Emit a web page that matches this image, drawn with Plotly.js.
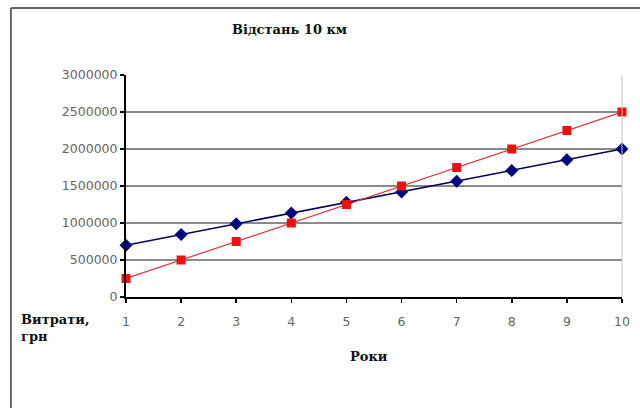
<!DOCTYPE html>
<html>
<head>
<meta charset="utf-8">
<script src="https://cdn.plot.ly/plotly-3.0.1.min.js"></script>
<style>
  html, body { margin: 0; padding: 0; background: #fff; }
  #chart { width: 640px; height: 408px; }
</style>
</head>
<body>
<div id="chart"></div>
<script>
// Years of operation
const years = [1, 2, 3, 4, 5, 6, 7, 8, 9, 10];
// Costs, UAH — first option (blue diamonds)
const costsA = [700000, 845000, 990000, 1135000, 1280000, 1420000, 1565000, 1710000, 1855000, 2000000];
// Costs, UAH — second option (red squares)
const costsB = [250000, 500000, 750000, 1000000, 1250000, 1500000, 1750000, 2000000, 2250000, 2500000];
const yTicks = [0, 500000, 1000000, 1500000, 2000000, 2500000, 3000000];

const traces = [
  {
    x: years, y: costsA, type: 'scatter', mode: 'lines+markers',
    line: { color: '#000055', width: 1.5 },
    marker: { symbol: 'diamond', size: 10, color: '#000080' },
    cliponaxis: false, showlegend: false
  },
  {
    x: years, y: costsB, type: 'scatter', mode: 'lines+markers',
    line: { color: '#e0303a', width: 1.2 },
    marker: { symbol: 'square', size: 9, color: '#ee1111' },
    cliponaxis: false, showlegend: false
  }
];

const serif = 'DejaVu Serif, serif';
const sans = 'DejaVu Sans, Verdana, sans-serif';

const layout = {
  width: 640, height: 408,
  margin: { l: 126, r: 18, t: 75, b: 111 },
  paper_bgcolor: '#ffffff', plot_bgcolor: '#ffffff',
  font: { family: sans, size: 12.5, color: '#666' },
  xaxis: {
    range: [1, 10], tickvals: years, ticktext: years.map(String),
    showgrid: false, zeroline: false,
    showline: true, linecolor: '#000', linewidth: 2,
    ticks: 'outside', ticklen: 4, tickcolor: '#000', tickwidth: 1.5,
    ticklabelstandoff: 8,
    tickfont: { family: sans, size: 12.5, color: '#666' }, fixedrange: true
  },
  yaxis: {
    range: [0, 3000000], tickvals: yTicks, ticktext: yTicks.map(String),
    showgrid: true, gridcolor: '#8a8a8a', gridwidth: 1.5, zeroline: false,
    showline: true, linecolor: '#000', linewidth: 2,
    ticks: 'outside', ticklen: 4, tickcolor: '#000', tickwidth: 1.5,
    tickfont: { family: sans, size: 12.5, color: '#666' }, fixedrange: true
  },
  shapes: [
    // frame around the chart
    { type: 'line', xref: 'paper', yref: 'paper', x0: -0.232, x1: 1.1, y0: 1.302, y1: 1.302,
      line: { color: '#666', width: 2 } },
    { type: 'line', xref: 'paper', yref: 'paper', x0: -0.232, x1: -0.232, y0: -0.6, y1: 1.302,
      line: { color: '#666', width: 2 } },
    // right edge of the plot area
    { type: 'line', xref: 'paper', yref: 'paper', x0: 1, x1: 1, y0: 0, y1: 1,
      line: { color: '#c8c8c8', width: 1 } }
  ],
  annotations: [
    { text: '<b>Відстань 10 км</b>', xref: 'paper', yref: 'paper', x: 0.33, y: 1.203,
      xanchor: 'center', yanchor: 'middle', showarrow: false,
      font: { family: serif, size: 13, color: '#111' } },
    { text: '<b>Витрати,<br>грн</b>', xref: 'paper', yref: 'paper', x: -0.215, y: -0.06,
      xanchor: 'left', yanchor: 'top', align: 'left', showarrow: false,
      font: { family: serif, size: 13, color: '#111' } },
    { text: '<b>Роки</b>', xref: 'paper', yref: 'paper', x: 0.49, y: -0.27,
      xanchor: 'center', yanchor: 'middle', showarrow: false,
      font: { family: serif, size: 13, color: '#111' } }
  ]
};

Plotly.newPlot('chart', traces, layout, { displayModeBar: false, staticPlot: true });
</script>
</body>
</html>
